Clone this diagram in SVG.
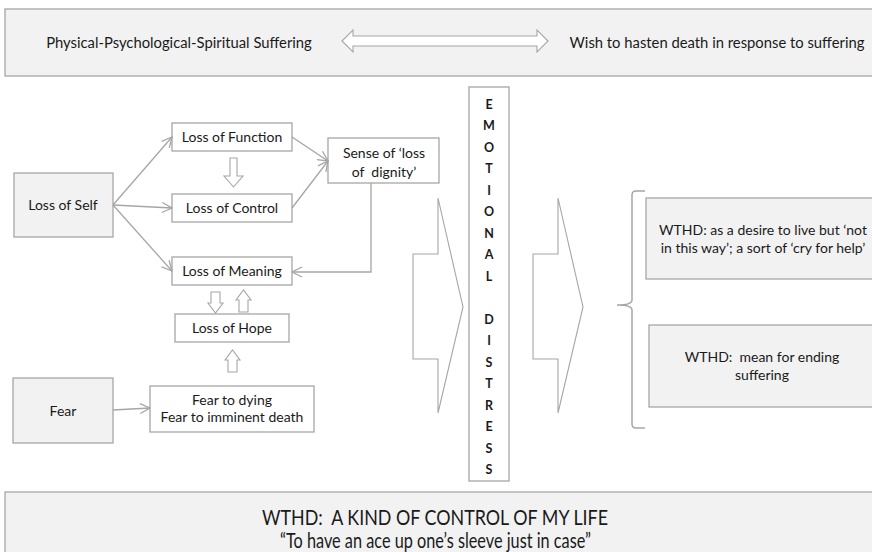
<svg xmlns="http://www.w3.org/2000/svg" width="872" height="552" viewBox="0 0 872 552" xml:space="preserve">
<defs>
<style>
text{font-family:Lato,"Liberation Sans",sans-serif;fill:#1a1a1a;text-anchor:middle;dominant-baseline:central;white-space:pre}
.box{fill:#ffffff;stroke:#a6a6a6;stroke-width:1.3}
.gbox{fill:#f2f2f2;stroke:#a6a6a6;stroke-width:1.3}
.blk{fill:#ffffff;stroke:#a6a6a6;stroke-width:1.1}
.ln{fill:none;stroke:#a6a6a6;stroke-width:1.3;marker-end:url(#ah)}
.t13{font-size:14px}
.t14{font-size:14.8px}
.big{font-size:21px}
.v{font-size:12.5px;font-weight:bold}
</style>
<marker id="ah" viewBox="0 0 12 12" refX="11" refY="6" markerWidth="12" markerHeight="12" markerUnits="userSpaceOnUse" orient="auto">
<polyline points="1,1 11,6 1,11" fill="none" stroke="#a6a6a6" stroke-width="1.3"/>
</marker>
</defs>
<rect width="872" height="552" fill="#ffffff"/>
<g id="top">
<rect class="gbox" x="5" y="9" width="880" height="67"/>
<text class="t14" x="179" y="42">Physical-Psychological-Spiritual Suffering</text>
<polygon class="blk" points="342,41 353,30 353,36 537,36 537,30 548,41 537,52 537,46 353,46 353,52"/>
<text class="t14" x="717" y="42">Wish to hasten death in response to suffering</text>
</g>
<g id="loss-of-self"><rect class="gbox" x="14" y="173" width="99" height="64"/><text class="t13" x="63" y="204">Loss of Self</text></g>
<g id="loss-of-function"><rect class="box" x="172" y="123" width="120" height="28"/><text class="t13" x="232" y="136">Loss of Function</text></g>
<g id="loss-of-control"><rect class="box" x="172" y="194" width="120" height="28"/><text class="t13" x="232" y="207">Loss of Control</text></g>
<g id="loss-of-meaning"><rect class="box" x="172" y="257" width="120" height="28"/><text class="t13" x="232" y="270">Loss of Meaning</text></g>
<g id="loss-of-hope"><rect class="box" x="175" y="314" width="114" height="28"/><text class="t13" x="232" y="327">Loss of Hope</text></g>
<g id="sense-dignity"><rect class="box" x="328" y="138" width="111" height="45"/><text class="t13" x="384" y="152">Sense of ‘loss</text><text class="t13" x="384" y="171">of  dignity’</text></g>
<g id="fear"><rect class="gbox" x="13" y="378" width="100" height="65"/><text class="t13" x="63" y="410">Fear</text></g>
<g id="fear-dying"><rect class="box" x="150" y="386" width="164" height="46"/><text class="t13" x="232" y="399">Fear to dying</text><text class="t13" x="232" y="416">Fear to imminent death</text></g>
<g id="emotional-distress">
<rect class="box" x="469" y="87" width="40" height="394"/>
<text class="v" x="489" y="104">E</text>
<text class="v" x="489" y="125.5">M</text>
<text class="v" x="489" y="147">O</text>
<text class="v" x="489" y="168.5">T</text>
<text class="v" x="489" y="190">I</text>
<text class="v" x="489" y="211.5">O</text>
<text class="v" x="489" y="233">N</text>
<text class="v" x="489" y="254.5">A</text>
<text class="v" x="489" y="276">L</text>
<text class="v" x="489" y="319">D</text>
<text class="v" x="489" y="340.5">I</text>
<text class="v" x="489" y="362">S</text>
<text class="v" x="489" y="383.5">T</text>
<text class="v" x="489" y="405">R</text>
<text class="v" x="489" y="426.5">E</text>
<text class="v" x="489" y="448">S</text>
<text class="v" x="489" y="469.5">S</text>
</g>
<g id="wthd-help"><rect class="gbox" x="646" y="198" width="240" height="81"/><text class="t13" x="763" y="229">WTHD: as a desire to live but ‘not</text><text class="t13" x="763" y="247">in this way’; a sort of ‘cry for help’</text></g>
<g id="wthd-ending"><rect class="gbox" x="649" y="325" width="240" height="82"/><text class="t13" x="762" y="356">WTHD:  mean for ending</text><text class="t13" x="762" y="374">suffering</text></g>
<g id="bottom">
<rect class="gbox" x="5" y="492" width="880" height="70"/>
<text class="big" x="435" y="516" textLength="346" lengthAdjust="spacingAndGlyphs">WTHD:  A KIND OF CONTROL OF MY LIFE</text>
<text class="big" x="435.5" y="539" textLength="311" lengthAdjust="spacingAndGlyphs">“To have an ace up one’s sleeve just in case”</text>
</g>
<g id="connectors">
<line class="ln" x1="113" y1="205" x2="172" y2="137"/>
<line class="ln" x1="113" y1="205" x2="172" y2="208"/>
<line class="ln" x1="113" y1="205" x2="172" y2="271"/>
<line class="ln" x1="292" y1="137" x2="328" y2="161"/>
<line class="ln" x1="292" y1="208" x2="328" y2="161"/>
<polyline class="ln" points="371,183 371,272 292,272"/>
<line class="ln" x1="113" y1="410" x2="150" y2="408"/>
<polygon class="blk" points="230,158 237,158 237,176 243,176 233.5,187 224,176 230,176"/>
<polygon class="blk" points="211,292 220,292 220,303 223,303 215.5,313 208,303 211,303"/>
<polygon class="blk" points="239,312 248,312 248,300 251,300 243.5,290 236,300 239,300"/>
<polygon class="blk" points="228,372 237,372 237,360 240,360 232.5,350 225,360 228,360"/>
<polygon class="blk" points="413,254 438,254 438,198 463,307 438,413 438,359 413,359"/>
<polygon class="blk" points="533,254 558,254 558,198 583,307 558,413 558,359 533,359"/>
<path d="M645,191 H636 Q632,191 632,195 V300 Q632,305 617,305 Q632,305 632,310 V424 Q632,428 636,428 H645" fill="none" stroke="#a6a6a6" stroke-width="1.5"/>
</g>
</svg>
